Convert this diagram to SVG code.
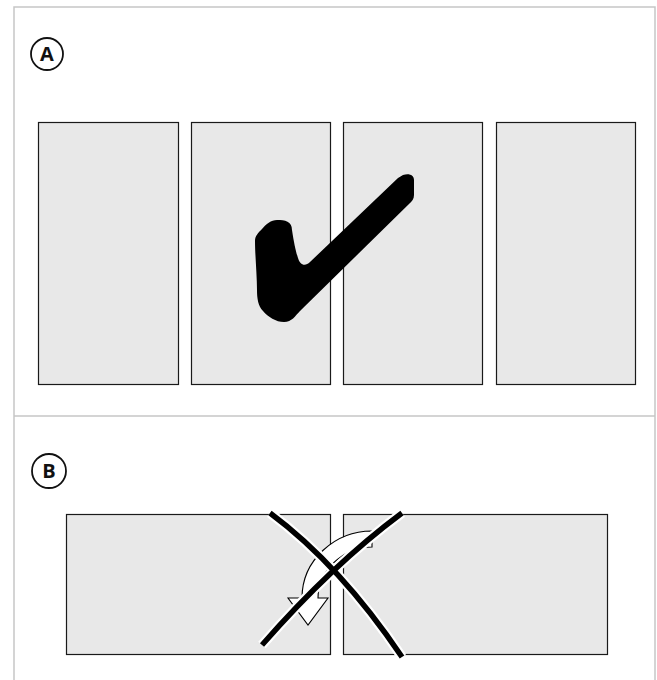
<svg xmlns="http://www.w3.org/2000/svg" width="657" height="680" viewBox="0 0 657 680">
<style>
.frame{stroke:#c6c6c6;stroke-width:1.5;fill:none}
.panel{fill:#e8e8e8;stroke:#1a1a1a;stroke-width:1.2}
.badge{fill:#fff;stroke:#111;stroke-width:1.8}
.lbl{font-family:"Open Sans","Liberation Sans",sans-serif;font-weight:bold;font-size:20px;fill:#111;text-anchor:middle}
.halo{fill:none;stroke:#fff;stroke-width:10;stroke-linecap:butt}
.xline{fill:none;stroke:#000;stroke-width:5.5;stroke-linecap:butt}
</style>
<rect width="657" height="680" fill="#fff"/>
<g id="frame">
<path class="frame" d="M14,690 V7 H655 V690"/>
<line class="frame" x1="14" y1="416" x2="655" y2="416"/>
</g>
<g id="badge-a">
<circle class="badge" cx="47" cy="54" r="16"/>
<text class="lbl" x="47" y="61">A</text>
</g>
<g id="badge-b">
<circle class="badge" cx="49" cy="471" r="17"/>
<text class="lbl" x="49" y="478">B</text>
</g>
<g id="section-a">
<rect class="panel" x="38.5" y="122.5" width="140" height="262"/>
<rect class="panel" x="191.5" y="122.5" width="139" height="262"/>
<rect class="panel" x="343.5" y="122.5" width="139" height="262"/>
<rect class="panel" x="496.5" y="122.5" width="139" height="262"/>
<path id="check" fill="#000" d="M403,175 C409,173 414,175 414,180 L414,195 C414,199 412,201 409,204 L300,311 C295,316 292,322 284,322 C276,322 268,317 263,311 C258,306 257,298 257,290 C257,275 255,255 255,241 C255,236 258,233 262,229 C266,224 271,220 277,220 C285,220 292,221 292,230 C294,243 296,252 298,258 C300,265 305,267 310,262 L398,178 Z"/>
</g>
<g id="section-b">
<rect class="panel" x="66.5" y="514.5" width="264" height="140"/>
<rect class="panel" x="343.5" y="514.5" width="264" height="140"/>
<path id="turn-arrow" fill="#fff" stroke="#000" stroke-width="1.1" stroke-linejoin="miter" d="M372,531 C335,531 302,560 302,598 L288,598 L308,625 L328,598 L318,598 C318,572 342,547 372,547 Z"/>
</g>
<g id="connectors">
<path class="halo" d="M270,513 Q340,565 402,657"/>
<path class="halo" d="M402,513 Q332,565 262,645"/>
<path class="xline" d="M270,513 Q340,565 402,657"/>
<path class="xline" d="M402,513 Q332,565 262,645"/>
</g>
</svg>
